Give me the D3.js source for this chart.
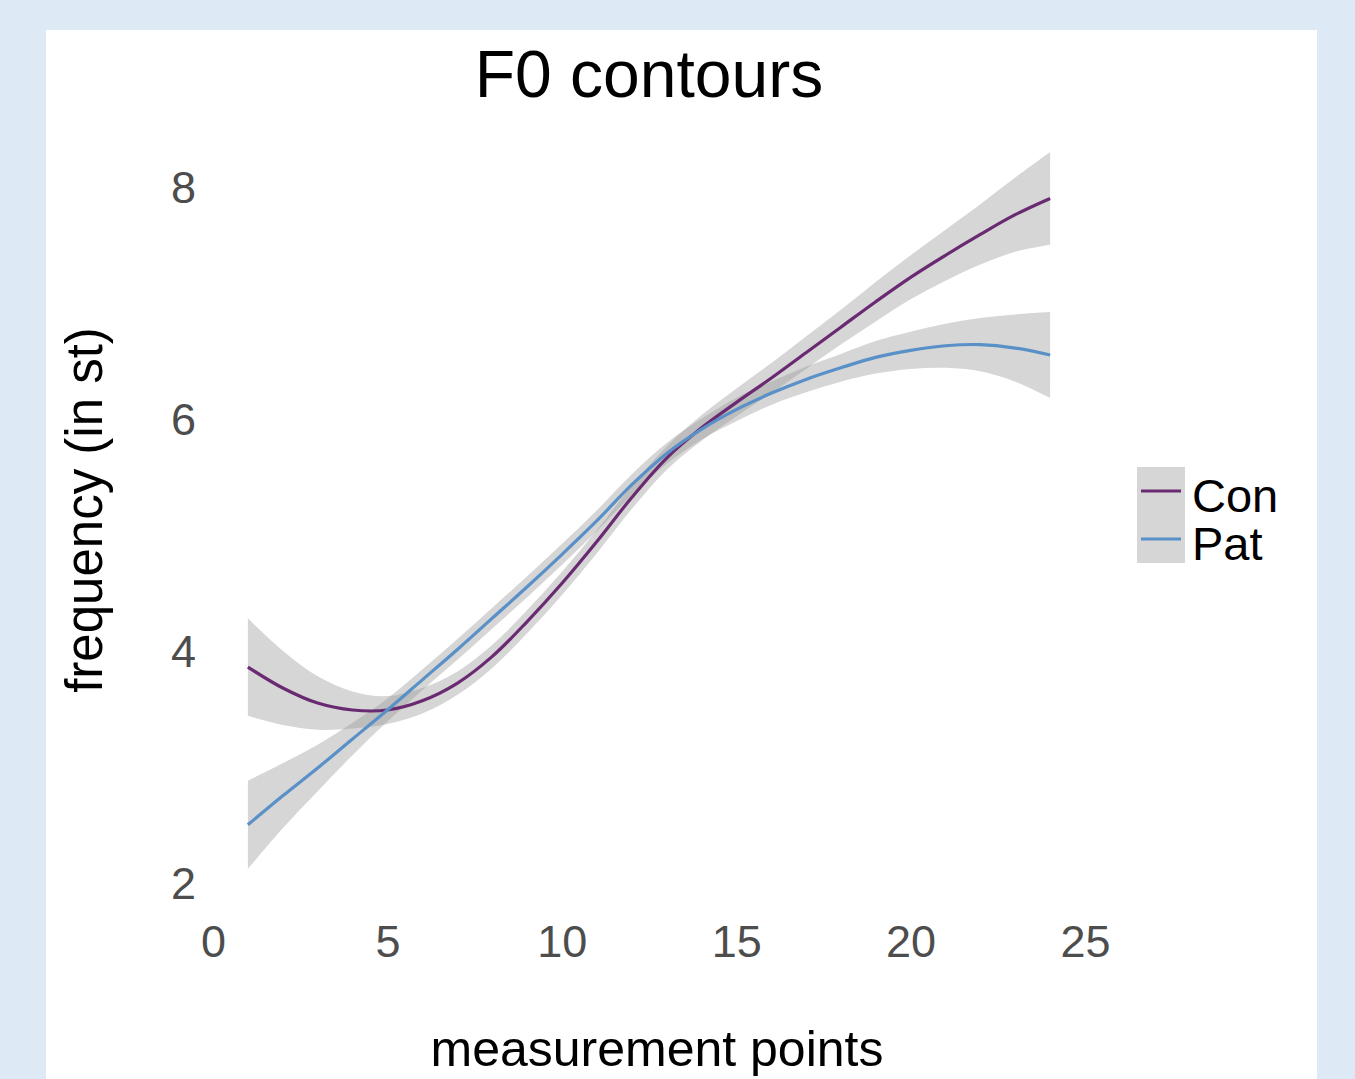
<!DOCTYPE html>
<html>
<head>
  <meta charset="UTF-8">
  <title>F0 contours</title>
  <style>
    body { margin: 0; background: #dde9f5; }
    svg { display: block; font-family: "Liberation Sans", Arial, sans-serif; }
  </style>
</head>
<body>
  <div class="graph"></div>
  <script src="https://d3js.org/d3.v7.min.js"></script>
  <script>

    /// data
    var points = [1,2,3,4,5,6,7,8,9,10,11,12,13,14,15,16,17,18,19,20,21,22,23,24];

    var conMean = [3.87,3.69,3.56,3.50,3.50,3.58,3.73,3.96,4.26,4.59,4.95,5.33,
                   5.67,5.93,6.15,6.36,6.58,6.80,7.02,7.23,7.42,7.60,7.77,7.91];
    var conLow  = [3.45,3.37,3.33,3.34,3.38,3.47,3.63,3.86,4.16,4.49,4.85,5.23,
                   5.57,5.82,6.03,6.23,6.44,6.65,6.85,7.04,7.20,7.34,7.45,7.51];
    var conHigh = [4.29,4.01,3.79,3.66,3.62,3.69,3.83,4.06,4.36,4.69,5.05,5.43,
                   5.77,6.04,6.27,6.49,6.72,6.95,7.19,7.42,7.64,7.86,8.09,8.31];

    var patMean = [2.51,2.76,3.00,3.25,3.50,3.76,4.02,4.29,4.56,4.84,5.13,5.44,
                   5.71,5.92,6.09,6.23,6.35,6.45,6.54,6.60,6.64,6.65,6.62,6.56];
    var patLow  = [2.13,2.48,2.80,3.11,3.40,3.67,3.93,4.20,4.47,4.75,5.04,5.35,
                   5.62,5.83,5.99,6.13,6.24,6.33,6.40,6.44,6.45,6.42,6.33,6.19];
    var patHigh = [2.89,3.04,3.20,3.39,3.60,3.85,4.11,4.38,4.65,4.93,5.22,5.53,
                   5.80,6.01,6.19,6.33,6.46,6.57,6.68,6.76,6.83,6.88,6.91,6.93];

    var groups = ["Con", "Pat"];
    var xTicks = [0, 5, 10, 15, 20, 25];
    var yTicks = [2, 4, 6, 8];

    /// params
    var width = 1355, height = 1079;
    var colors = { Con: "#6a2a72", Pat: "#5a90c8" };
    var bandFill = "#999999", bandOpacity = 0.4;

    var svg = d3.select(".graph").append("svg")
        .attr("width", width)
        .attr("height", height);

    // white plot panel
    svg.append("rect")
        .attr("x", 46).attr("y", 30)
        .attr("width", 1271).attr("height", height - 30)
        .attr("fill", "#ffffff");

    var x = d3.scaleLinear().domain([0, 25]).range([213, 1085]);
    var y = d3.scaleLinear().domain([2, 8]).range([884, 188]);

    var series = [
      { name: "Con", mean: conMean, low: conLow, high: conHigh },
      { name: "Pat", mean: patMean, low: patLow, high: patHigh }
    ];

    var area = d3.area()
        .x(function(d) { return x(d.x); })
        .y0(function(d) { return y(d.lo); })
        .y1(function(d) { return y(d.hi); })
        .curve(d3.curveCatmullRom);

    var line = d3.line()
        .x(function(d) { return x(d.x); })
        .y(function(d) { return y(d.m); })
        .curve(d3.curveCatmullRom);

    series.forEach(function(s) {
      s.rows = points.map(function(p, i) {
        return { x: p, m: s.mean[i], lo: s.low[i], hi: s.high[i] };
      });
    });

    // confidence bands
    svg.append("g").selectAll("path")
      .data(series)
      .enter().append("path")
        .attr("d", function(s) { return area(s.rows); })
        .attr("fill", bandFill)
        .attr("fill-opacity", bandOpacity);

    // smooth lines
    svg.append("g").selectAll("path")
      .data(series)
      .enter().append("path")
        .attr("d", function(s) { return line(s.rows); })
        .attr("fill", "none")
        .attr("stroke", function(s) { return colors[s.name]; })
        .attr("stroke-width", 3.2);

    // axes (labels only, no lines)
    var xAxis = svg.append("g")
        .attr("transform", "translate(0,884)")
        .call(d3.axisBottom(x).tickValues(xTicks).tickFormat(d3.format("d"))
              .tickSize(0).tickPadding(41));
    xAxis.select(".domain").remove();
    xAxis.selectAll("text")
        .attr("font-size", 45)
        .attr("font-family", "Liberation Sans, Arial, sans-serif")
        .attr("fill", "#4d4d4d");

    var yAxis = svg.append("g")
        .attr("transform", "translate(213,0)")
        .call(d3.axisLeft(y).tickValues(yTicks).tickFormat(d3.format("d"))
              .tickSize(0).tickPadding(17));
    yAxis.select(".domain").remove();
    yAxis.selectAll("text")
        .attr("font-size", 45)
        .attr("font-family", "Liberation Sans, Arial, sans-serif")
        .attr("fill", "#4d4d4d");

    // title and axis titles
    svg.append("text")
        .attr("x", 649).attr("y", 97)
        .attr("text-anchor", "middle")
        .attr("font-size", 66)
        .attr("fill", "#000")
        .text("F0 contours");

    svg.append("text")
        .attr("x", 657).attr("y", 1066)
        .attr("text-anchor", "middle")
        .attr("font-size", 50)
        .attr("fill", "#000")
        .text("measurement points");

    svg.append("text")
        .attr("transform", "translate(102,510) rotate(-90)")
        .attr("text-anchor", "middle")
        .attr("font-size", 51)
        .attr("fill", "#000")
        .text("frequency (in st)");

    // legend
    var legend = svg.append("g").attr("transform", "translate(1137,467)");
    var key = legend.selectAll("g")
      .data(groups)
      .enter().append("g")
        .attr("transform", function(d, i) { return "translate(0," + (i * 48) + ")"; });
    key.append("rect")
        .attr("width", 48).attr("height", 48)
        .attr("fill", bandFill)
        .attr("fill-opacity", bandOpacity);
    key.append("line")
        .attr("x1", 4).attr("x2", 44)
        .attr("y1", 24).attr("y2", 24)
        .attr("stroke", function(d) { return colors[d]; })
        .attr("stroke-width", 3.2);
    key.append("text")
        .attr("x", 55).attr("y", 45)
        .attr("font-size", 47)
        .attr("fill", "#000")
        .text(function(d) { return d; });

  </script>
</body>
</html>
